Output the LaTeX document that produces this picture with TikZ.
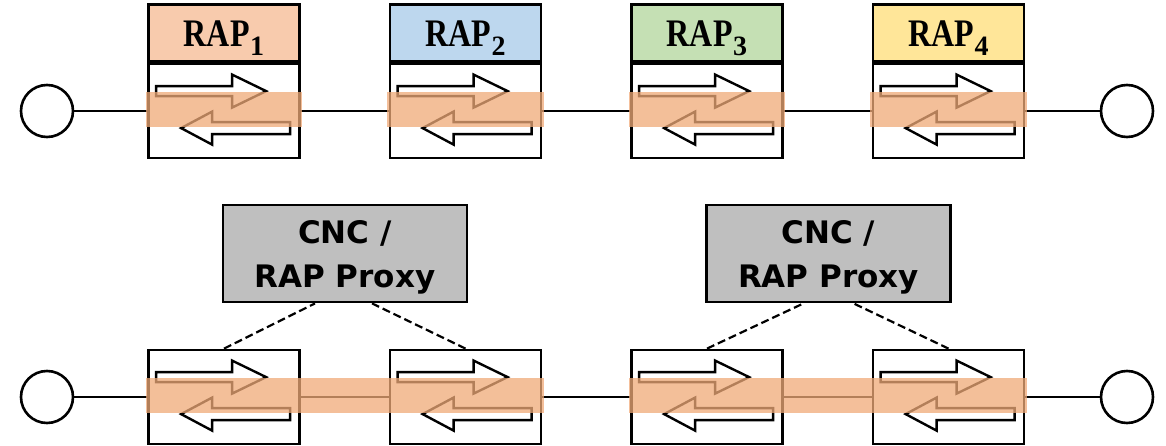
\documentclass[tikz,border=0pt]{standalone}
\usepackage{fontspec}
\newfontfamily\rapfont[FakeStretch=0.82]{Liberation Serif}
\newfontfamily\rapsubfont{Liberation Serif}
\newfontfamily\cncfont{DejaVu Sans}
\usetikzlibrary{calc}
\definecolor{rapA}{HTML}{F8CBAD}
\definecolor{rapB}{HTML}{BDD7EE}
\definecolor{rapC}{HTML}{C5E0B4}
\definecolor{rapD}{HTML}{FFE699}
\definecolor{proxygray}{HTML}{BFBFBF}
\definecolor{bandc}{RGB}{240,170,120}
\tikzset{
  conn/.style={line width=2.6pt},
  endpt/.style={circle,draw,line width=2.6pt,fill=white,minimum size=52pt,inner sep=0pt},
  bridge/.style={draw,line width=2.8pt,fill=white,minimum width=151pt,minimum height=94pt,inner sep=0pt},
  raplabel/.style={draw,line width=2.8pt,minimum width=151pt,minimum height=57pt,inner sep=0pt,anchor=south,
    text height=24pt,text depth=0pt,
    font=\rapfont\bfseries\fontsize{39}{39}\selectfont},
  proxy/.style={draw,line width=2.8pt,fill=proxygray,minimum width=244pt,minimum height=97pt,inner sep=0pt,
    align=center,text depth=0pt,font=\cncfont\bfseries\fontsize{31}{44}\selectfont},
  flowarrow/.style={draw,line width=2.4pt,fill=white,line join=miter},
  band/.style={fill=bandc,fill opacity=0.75},
  dashlink/.style={line width=2.2pt,dash pattern=on 8pt off 4pt}
}
\newcommand{\rapsub}[1]{\raisebox{-1.5pt}{RAP\kern0.5pt\raisebox{-9pt}{\rapsubfont\bfseries\fontsize{28}{28}\selectfont #1}}}
\newcommand{\duplexarrows}[1]{%
  \begin{scope}[shift={(#1.north west)}]
    \path[flowarrow] (9,23.5) -- (85,23.5) -- (85,12) -- (119,28.5) -- (85,45) -- (85,33.5) -- (9,33.5) -- cycle;
    \path[flowarrow] (143,59.5) -- (65,59.5) -- (65,49) -- (34,65.5) -- (65,82) -- (65,71.5) -- (143,71.5) -- cycle;
  \end{scope}}
\begin{document}
\begin{tikzpicture}[x=1pt,y=-1pt]
\useasboundingbox (0,0) rectangle (1166,446);
% ---------- top row ----------
\node[endpt] (c1) at (47,111) {};
\node[endpt] (c2) at (1127,111) {};
\node[bridge] (b1) at (224,111) {};
\node[bridge] (b2) at (465.5,111) {};
\node[bridge] (b3) at (707,111) {};
\node[bridge] (b4) at (948.5,111) {};
\draw[conn] (c1) -- (b1);
\draw[conn] (b1) -- (b2);
\draw[conn] (b2) -- (b3);
\draw[conn] (b3) -- (b4);
\draw[conn] (b4) -- (c2);
\node[raplabel,fill=rapA] (l1) at (b1.north) {\rapsub{1}};
\node[raplabel,fill=rapB] (l2) at (b2.north) {\rapsub{2}};
\node[raplabel,fill=rapC] (l3) at (b3.north) {\rapsub{3}};
\node[raplabel,fill=rapD] (l4) at (b4.north) {\rapsub{4}};
\duplexarrows{b1}
\duplexarrows{b2}
\duplexarrows{b3}
\duplexarrows{b4}
\foreach \b in {b1,b2,b3,b4}{
  \fill[band] ($(\b.north west)+(-1.4,29)$) rectangle ($(\b.north east)+(1.4,64)$);
}
% ---------- bottom row ----------
\node[endpt] (c3) at (47,397) {};
\node[endpt] (c4) at (1127,397) {};
\node[bridge] (b5) at (224,397) {};
\node[bridge] (b6) at (465.5,397) {};
\node[bridge] (b7) at (707,397) {};
\node[bridge] (b8) at (948.5,397) {};
\draw[conn] (c3) -- (b5);
\draw[conn] (b5) -- (b6);
\draw[conn] (b6) -- (b7);
\draw[conn] (b7) -- (b8);
\draw[conn] (b8) -- (c4);
\duplexarrows{b5}
\duplexarrows{b6}
\duplexarrows{b7}
\duplexarrows{b8}
\fill[band] ($(b5.north west)+(-1.4,29)$) rectangle ($(b6.north east)+(1.4,64)$);
\fill[band] ($(b7.north west)+(-1.4,29)$) rectangle ($(b8.north east)+(1.4,64)$);
% ---------- proxies ----------
\node[proxy] (p1) at (345,253.5) {CNC /\\RAP Proxy};
\node[proxy] (p2) at (828.5,253.5) {CNC /\\RAP Proxy};
\coordinate (p1l) at ($(p1.south)+(-30,0)$);
\coordinate (p1r) at ($(p1.south)+(27,0)$);
\coordinate (p2l) at ($(p2.south)+(-25,0)$);
\coordinate (p2r) at ($(p2.south)+(25,0)$);
\draw[dashlink] (b5.north) -- (p1l);
\draw[dashlink] (b6.north) -- (p1r);
\draw[dashlink] (b7.north) -- (p2l);
\draw[dashlink] (b8.north) -- (p2r);
\end{tikzpicture}
\end{document}
